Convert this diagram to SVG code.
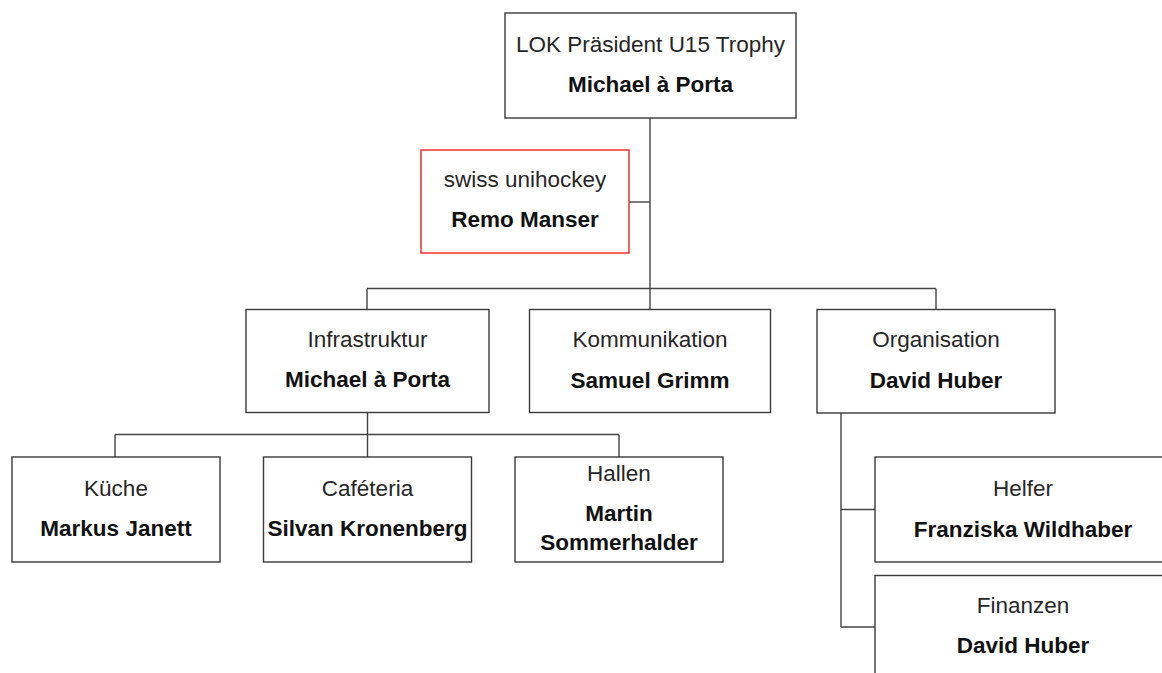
<svg xmlns="http://www.w3.org/2000/svg" width="1162" height="673" viewBox="0 0 1162 673">
<style>
rect.box{fill:#ffffff;stroke:#3a3a3a;stroke-width:1.4}
rect.red{fill:#ffffff;stroke:#f02020;stroke-width:1.4}
text{font-family:"Liberation Sans",Arial,sans-serif;font-size:22.5px;text-anchor:middle}
.t{fill:#262626}
.n{fill:#111111;font-weight:bold}
#connectors path{fill:none;stroke:#444444;stroke-width:1.4}
</style>
<rect width="1162" height="673" fill="#ffffff"/>
<g id="connectors">
<path d="M650 118 V309"/>
<path d="M629 202 H650"/>
<path d="M367 288.5 H936 M367 288.5 V309 M936 288.5 V309"/>
<path d="M367.5 413 V457"/>
<path d="M115 434.5 H619 M115 434.5 V457 M619 434.5 V457"/>
<path d="M841 413 V627 M841 509.5 H875 M841 627 H875"/>
</g>
<g id="n-president">
<rect class="box" x="505" y="13" width="291" height="105"/>
<text class="t" x="650.5" y="52">LOK Präsident U15 Trophy</text>
<text class="n" x="650.5" y="92">Michael à Porta</text>
</g>
<g id="n-swiss">
<rect class="red" x="421" y="150" width="208" height="103"/>
<text class="t" x="525" y="187">swiss unihockey</text>
<text class="n" x="525" y="227">Remo Manser</text>
</g>
<g id="n-infrastruktur">
<rect class="box" x="246" y="309.5" width="243" height="103"/>
<text class="t" x="367.5" y="347">Infrastruktur</text>
<text class="n" x="367.5" y="387">Michael à Porta</text>
</g>
<g id="n-kommunikation">
<rect class="box" x="529.5" y="309.5" width="241" height="103"/>
<text class="t" x="650" y="347">Kommunikation</text>
<text class="n" x="650" y="387.5">Samuel Grimm</text>
</g>
<g id="n-organisation">
<rect class="box" x="817" y="309.5" width="238" height="103.5"/>
<text class="t" x="936" y="347">Organisation</text>
<text class="n" x="936" y="388">David Huber</text>
</g>
<g id="n-kueche">
<rect class="box" x="12" y="457" width="208" height="105"/>
<text class="t" x="116" y="496">Küche</text>
<text class="n" x="116" y="536">Markus Janett</text>
</g>
<g id="n-cafeteria">
<rect class="box" x="263.5" y="457" width="208" height="105"/>
<text class="t" x="367.5" y="496">Caféteria</text>
<text class="n" x="367.5" y="536">Silvan Kronenberg</text>
</g>
<g id="n-hallen">
<rect class="box" x="515" y="457" width="208" height="105"/>
<text class="t" x="619" y="480.5">Hallen</text>
<text class="n" x="619" y="521">Martin</text>
<text class="n" x="619" y="550">Sommerhalder</text>
</g>
<g id="n-helfer">
<rect class="box" x="875" y="457" width="296" height="105"/>
<text class="t" x="1023" y="496">Helfer</text>
<text class="n" x="1023" y="537">Franziska Wildhaber</text>
</g>
<g id="n-finanzen">
<rect class="box" x="875" y="575.5" width="296" height="105"/>
<text class="t" x="1023" y="613">Finanzen</text>
<text class="n" x="1023" y="653">David Huber</text>
</g>
</svg>
